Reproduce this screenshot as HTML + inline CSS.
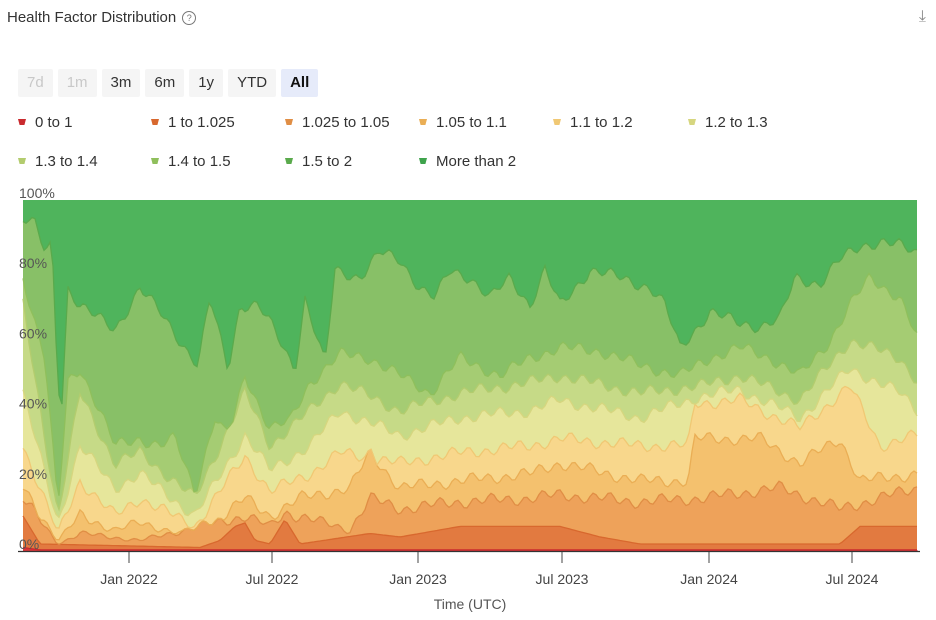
<!DOCTYPE html>
<html><head><meta charset="utf-8"><style>
body{margin:0;background:#fff;font-family:"Liberation Sans",sans-serif;width:936px;height:620px;overflow:hidden;position:relative}
.t{position:absolute;left:7px;top:9px;font-size:15px;color:#333}
.q{display:inline-block;width:12px;height:12px;border:1.3px solid #777;border-radius:50%;font-size:9px;text-align:center;line-height:12px;color:#777;margin-left:6px;vertical-align:1px}
.dl{position:absolute;right:10px;top:8px;color:#888;font-size:16px}
.btns{position:absolute;top:69px;left:18px;display:flex;gap:5px}
.btns div{height:28px;line-height:28px;padding:0 9px;background:#f5f5f5;font-size:15px;color:#333;border-radius:2px}
.btns .dis{color:#c8c8c8}
.btns .on{background:#e6ebfa;font-weight:bold;color:#111}
.lg{position:absolute;font-size:15px;color:#333;white-space:nowrap}
.lg i{display:inline-block;width:8px;height:6px;margin-right:9px;vertical-align:2px;clip-path:polygon(0 0,100% 0,80% 100%,20% 100%)}
svg{position:absolute;left:0;top:0}
</style></head><body>
<div class="t">Health Factor Distribution<span class="q">?</span></div>
<div class="dl">⤓</div>
<div class="btns"><div class="dis">7d</div><div class="dis">1m</div><div>3m</div><div>6m</div><div>1y</div><div>YTD</div><div class="on">All</div></div>
<div id="leg"></div>
<svg id="s" width="936" height="620"></svg>
<script>
const cols=["#d9363a","#e27a40","#eea25a","#f4c16e","#f8d78c","#e6e69b","#c6da87","#a5cc73","#88c067","#4fb45c"];
const strokes=["#c92a2e","#d8682e","#e08e45","#eaae55","#f0c874","#d6d67f","#b3cc6e","#8fbf5c","#5aaa4c","#3ea34c"];
const names=["0 to 1","1 to 1.025","1.025 to 1.05","1.05 to 1.1","1.1 to 1.2","1.2 to 1.3","1.3 to 1.4","1.4 to 1.5","1.5 to 2","More than 2"];
const lx=[18,151,285,419,553,688,18,151,285,419],ly=[114,114,114,114,114,114,153,153,153,153];
let lh="";names.forEach((n,i)=>lh+=`<div class="lg" style="left:${lx[i]}px;top:${ly[i]}px"><i style="background:${strokes[i]}"></i>${n}</div>`);
document.getElementById('leg').innerHTML=lh;
const B=[
[[23,1],[40,0.3],[918,0.3]],
[[23,10],[40,2],[200,1],[220,3],[235,7],[245,8],[255,3],[270,2],[285,9],[300,2],[370,5],[400,4],[460,7],[530,7],[560,7],[600,4],[640,2],[700,2],[840,2],[860,7],[918,7]],
[[23,15],[58,2],[80,5],[140,3],[245,10],[270,7],[285,11],[350,6],[370,15],[400,12],[460,14],[530,15],[560,16],[640,14],[700,15],[780,18],[840,12],[918,18]],
[[23,18],[58,3],[80,10],[115,6],[140,8],[195,4],[245,15],[270,10],[300,15],[350,18],[370,28],[400,18],[460,20],[530,22],[560,25],[640,20],[688,20],[695,32],[760,32],[800,25],[840,32],[860,20],[918,22]],
[[23,30],[58,5],[80,20],[115,10],[140,15],[195,7],[245,27],[270,17],[310,22],[340,28],[400,25],[460,28],[530,30],[560,32],[640,30],[688,30],[695,42],[740,43],[800,35],[850,47],[880,30],[918,33]],
[[23,45],[58,8],[80,30],[115,18],[140,22],[195,10],[245,33],[270,23],[310,30],[340,40],[400,33],[460,38],[530,40],[560,43],[640,38],[700,44],[740,46],[800,38],[850,52],[900,45],[918,40]],
[[23,70],[58,10],[80,45],[115,25],[140,28],[195,15],[245,45],[270,30],[310,40],[340,48],[400,40],[460,45],[530,48],[560,50],[640,45],[700,47],[740,50],[800,43],[850,60],[900,55],[918,48]],
[[23,78],[45,55],[58,12],[68,48],[80,52],[100,40],[115,30],[140,32],[160,30],[175,32],[195,17],[215,38],[228,32],[245,50],[270,35],[290,37],[310,48],[340,56],[370,55],[400,50],[430,45],[460,55],[500,50],[530,55],[560,58],[600,57],[640,53],[680,50],[710,55],[740,58],[770,55],[800,50],[830,60],[850,70],[870,78],[900,72],[918,60]],
[[23,95],[35,93],[45,85],[52,87],[58,47],[62,43],[68,75],[80,70],[100,66],[115,63],[140,75],[160,68],[190,56],[198,53],[210,72],[228,52],[240,70],[258,70],[270,65],[295,52],[305,72],[325,53],[335,80],[360,78],[380,85],[400,83],[420,75],[435,72],[450,80],[470,78],[490,72],[510,78],[530,70],[545,80],[560,70],[590,80],[620,78],[650,75],[665,70],[680,58],[710,68],[740,65],[760,64],[780,66],[795,78],[820,76],[840,83],[860,87],[880,88],[900,87],[918,85]],
[[23,100],[918,100]]];
function interp(p,x){for(let i=0;i<p.length-1;i++){if(x<=p[i+1][0]){const t=(x-p[i][0])/(p[i+1][0]-p[i][0]);return p[i][1]+t*(p[i+1][1]-p[i][1]);}}return p[p.length-1][1];}
const xs=[];for(let x=23;x<=918;x+=3)xs.push(x);
const Y=v=>551-v*3.51;
let vals=B.map((b,k)=>xs.map(x=>{let v=interp(b,x);if(k<9&&k>1){v+=Math.sin(x*0.37+k)*1.2*Math.min(1,v/10)+Math.sin(x*0.11+k*2)*0.8*Math.min(1,v/10);}return Math.max(0,Math.min(100,v));}));
for(let k=1;k<10;k++)vals[k]=vals[k].map((v,i)=>Math.max(v,vals[k-1][i]));
let s="";
for(let k=9;k>=0;k--){
 let top=xs.map((x,i)=>`${x},${Y(vals[k][i]).toFixed(1)}`);
 let bot=k>0?xs.map((x,i)=>`${x},${Y(vals[k-1][i]).toFixed(1)}`).reverse():["918,551","23,551"];
 s+=`<polygon points="${top.join(" ")} ${bot.join(" ")}" fill="${cols[k]}"/>`;
}
for(let k=0;k<9;k++)s+=`<polyline points="${xs.map((x,i)=>`${x},${Y(vals[k][i]).toFixed(1)}`).join(" ")}" fill="none" stroke="${strokes[k]}" stroke-width="1.3"/>`;
const yl=["0%","20%","40%","60%","80%","100%"];
yl.forEach((l,i)=>s+=`<text x="19" y="${549-i*70.2}" font-size="14" fill="#555" font-family="Liberation Sans">${l}</text>`);
s+=`<line x1="18" y1="551.5" x2="920" y2="551.5" stroke="#333" stroke-width="1.2"/>`;
[[129,"Jan 2022"],[272,"Jul 2022"],[418,"Jan 2023"],[562,"Jul 2023"],[709,"Jan 2024"],[852,"Jul 2024"]].forEach(([x,l])=>{s+=`<line x1="${x}" y1="552" x2="${x}" y2="563" stroke="#444"/><text x="${x}" y="584" text-anchor="middle" font-size="14" fill="#444" font-family="Liberation Sans">${l}</text>`;});
s+=`<text x="470" y="609" text-anchor="middle" font-size="14" fill="#555" font-family="Liberation Sans">Time (UTC)</text>`;
document.getElementById('s').innerHTML=s;
</script>
</body></html>
